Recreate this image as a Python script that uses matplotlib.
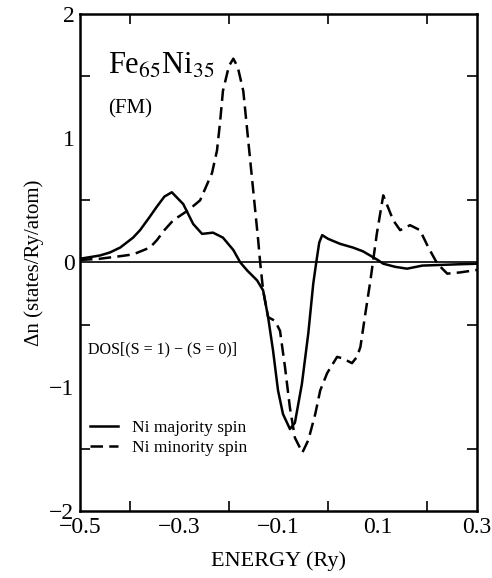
import numpy as np
import matplotlib.pyplot as plt
from matplotlib.ticker import FixedLocator

plt.rcParams['font.family'] = ['Liberation Serif', 'DejaVu Serif']
plt.rcParams['mathtext.fontset'] = 'stix'

# Ni majority spin (solid)
e_maj = [-0.5, -0.46, -0.44, -0.419, -0.393, -0.379, -0.359, -0.345, -0.33, -0.315,
         -0.292, -0.272, -0.254, -0.232, -0.212, -0.191, -0.177, -0.163, -0.143, -0.131,
         -0.121, -0.111, -0.101, -0.091, -0.077, -0.067, -0.053, -0.04, -0.03, -0.024,
         -0.018, -0.012, 0.0, 0.024, 0.05, 0.07, 0.085, 0.1, 0.111, 0.135, 0.159, 0.19,
         0.226, 0.26, 0.3]
n_maj = [0.03, 0.056, 0.08, 0.12, 0.2, 0.26, 0.37, 0.45, 0.53, 0.565,
         0.47, 0.31, 0.23, 0.24, 0.2, 0.1, 0.0, -0.065, -0.145, -0.225,
         -0.44, -0.71, -1.03, -1.22, -1.34, -1.29, -0.98, -0.57, -0.17, 0.0,
         0.16, 0.22, 0.19, 0.15, 0.12, 0.09, 0.055, 0.02, -0.01, -0.035, -0.05, -0.025,
         -0.02, -0.015, -0.01]

# Ni minority spin (dashed)
e_min = [-0.5, -0.46, -0.42, -0.393, -0.359, -0.345, -0.33, -0.312, -0.282, -0.258,
         -0.234, -0.224, -0.218, -0.212, -0.2, -0.191, -0.182, -0.171, -0.161, -0.151,
         -0.141, -0.137, -0.131, -0.121, -0.107, -0.097, -0.087, -0.077, -0.067, -0.052,
         -0.04, -0.026, -0.016, -0.002, 0.018, 0.028, 0.048, 0.058, 0.065, 0.075, 0.085,
         0.098, 0.111, 0.131, 0.145, 0.165, 0.185, 0.202, 0.22, 0.24, 0.266, 0.3]
n_min = [0.02, 0.03, 0.05, 0.065, 0.12, 0.18, 0.26, 0.34, 0.42, 0.5,
         0.72, 0.9, 1.12, 1.38, 1.58, 1.64, 1.57, 1.38, 0.98, 0.58,
         0.18, 0.0, -0.225, -0.44, -0.47, -0.55, -0.84, -1.17, -1.41, -1.53,
         -1.43, -1.22, -1.03, -0.89, -0.76, -0.77, -0.81, -0.76, -0.68, -0.41, -0.15,
         0.23, 0.54, 0.34, 0.26, 0.30, 0.26, 0.12, -0.01, -0.09, -0.08, -0.06]

x_ticks = [-0.5, -0.3, -0.1, 0.1, 0.3]
x_labels = ['\u22120.5', '\u22120.3', '\u22120.1', '0.1', '0.3']
y_ticks = [-2, -1, 0, 1, 2]
y_labels = ['\u22122', '\u22121', '0', '1', '2']

fig = plt.figure(figsize=(4.92, 5.78), dpi=100)
ax = fig.add_axes([0.1626, 0.1159, 0.807, 0.86])

ax.plot(e_maj, n_maj, color='black', lw=1.8, label='Ni majority spin')
ax.plot(e_min, n_min, color='black', lw=1.8, ls=(0, (5, 2.5)), label='Ni minority spin')
ax.axhline(0, color='black', lw=1.2)

ax.set_xlim(-0.5, 0.3)
ax.set_ylim(-2, 2)
ax.xaxis.set_major_locator(FixedLocator(x_ticks))
ax.xaxis.set_minor_locator(FixedLocator(np.arange(-0.4, 0.3, 0.1)))
ax.yaxis.set_major_locator(FixedLocator(y_ticks))
ax.yaxis.set_minor_locator(FixedLocator(np.arange(-1.5, 2.0, 0.5)))
ax.set_xticklabels(x_labels)
ax.set_yticklabels(y_labels)
ax.tick_params(which='both', direction='in', top=True, right=True, width=1.2)
ax.tick_params(which='major', length=0, labelsize=17, pad=4)
ax.tick_params(which='minor', length=7)
for s in ax.spines.values():
    s.set_linewidth(1.8)

ax.set_xlabel('ENERGY (Ry)', fontsize=16, labelpad=10)
ax.set_ylabel('\u0394n (states/Ry/atom)', fontsize=15, labelpad=4)

ax.text(0.07, 0.895, r'Fe$_{65}$Ni$_{35}$', transform=ax.transAxes, fontsize=22, va='center')
ax.text(0.07, 0.81, '(FM)', transform=ax.transAxes, fontsize=15, va='center')
ax.text(0.02, 0.325, 'DOS[(S = 1) \u2212 (S = 0)]', transform=ax.transAxes, fontsize=11.5, va='center')

ax.legend(loc='lower left', bbox_to_anchor=(0.0, 0.09), frameon=False, fontsize=12.5,
          handlelength=1.6, handletextpad=0.8, labelspacing=0.2, borderaxespad=0.2)

fig.savefig('out.png', dpi=100)
